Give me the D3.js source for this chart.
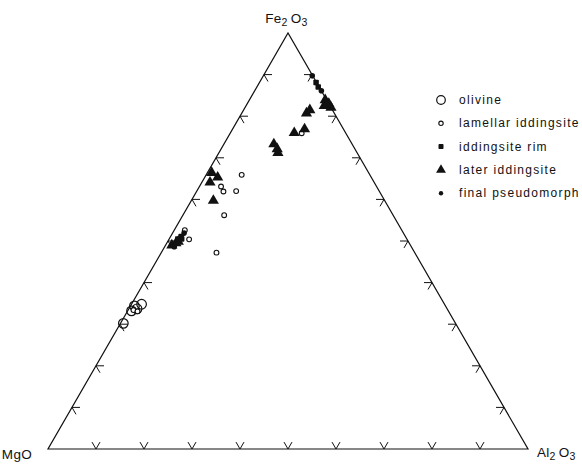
<!DOCTYPE html>
<html>
<head>
<meta charset="utf-8">
<script src="https://cdn.jsdelivr.net/npm/d3@7"></script>
<style>
  html, body { margin: 0; padding: 0; background: #fff; }
  svg { display: block; }
  text { font-family: "Liberation Sans", Arial, sans-serif; fill: #111; }
</style>
</head>
<body>
<svg id="chart" width="582" height="464"></svg>
<script>
// ---- Data: compositions in percent [MgO, Al2O3, Fe2O3] ----
const apexLabels = ["MgO", "Al2O3", "Fe2O3"];
const tickFractions = [0.1, 0.2, 0.3, 0.4, 0.5, 0.6, 0.7, 0.8, 0.9];

const olivine = [
  [63.1, 2.1, 34.8], [64.8, 0.8, 34.4], [66.0, 0.8, 33.2], [64.6, 1.7, 33.7], [69.2, 0.6, 30.2]
];
const lamellarIddingsite = [
  [26.7, 7.4, 65.9], [32.4, 4.5, 63.1], [32.5, 5.6, 61.9], [29.8, 8.2, 62.0], [35.2, 8.6, 56.2],
  [41.3, 11.5, 47.2], [45.4, 4.2, 50.4], [9.2, 14.9, 75.9], [45.2, 2.2, 52.6], [65.5, 1.1, 33.4],
  [64.8, 2.1, 33.1]
];
const iddingsiteRim = [
  [0.1, 11.8, 88.1], [0.2, 12.8, 87.0], [47.7, 1.8, 50.5], [46.7, 2.2, 51.1], [46.9, 2.6, 50.5]
];
const laterIddingsite = [
  [32.7, 0.9, 66.4], [32.0, 2.7, 65.3], [34.2, 1.7, 64.1], [35.7, 4.6, 59.7],
  [16.3, 10.4, 73.3], [16.2, 11.7, 72.1], [16.5, 12.3, 71.2], [10.7, 13.3, 76.0], [8.1, 15.0, 76.9],
  [5.8, 13.5, 80.7], [4.7, 13.8, 81.5], [0.3, 15.8, 83.9], [0.0, 17.0, 83.0], [0.0, 17.9, 82.1],
  [1.2, 16.3, 82.5], [0.4, 16.8, 82.8], [49.7, 1.3, 49.0], [48.6, 1.9, 49.5], [47.9, 2.2, 49.9]
];
const finalPseudomorph = [
  [0.1, 10.2, 89.7], [0.0, 13.9, 86.1], [45.7, 2.4, 51.9], [49.4, 2.0, 48.6]
];
const legendLabels = ["olivine", "lamellar iddingsite", "iddingsite rim", "later iddingsite", "final pseudomorph"];

// ---- Layout ----
const svg = d3.select("#chart");
const plotLeft = 48, plotRight = 528, plotBottom = 449, plotTop = 33;
const xScale = d3.scaleLinear().domain([0, 1]).range([plotLeft, plotRight]);   // along base
const yScale = d3.scaleLinear().domain([0, 1]).range([plotBottom, plotTop]);   // Fe2O3 fraction

function proj(d) {
  const s = d[0] + d[1] + d[2];
  const al = d[1] / s, fe = d[2] / s;
  return [xScale(al + fe / 2), yScale(fe)];
}

// Triangle outline
const corners = [[100, 0, 0], [0, 100, 0], [0, 0, 100]].map(proj);
svg.append("path")
  .attr("d", d3.line()(corners) + "Z")
  .attr("fill", "none").attr("stroke", "#111").attr("stroke-width", 1.2)
  .attr("stroke-linejoin", "miter");

// Ticks (two short strokes pointing inward along grid directions)
const tl = 8, c60 = Math.cos(Math.PI / 3), s60 = Math.sin(Math.PI / 3);
const tickG = svg.append("g").attr("stroke", "#111").attr("stroke-width", 1).attr("fill", "none");
tickFractions.forEach(f => {
  let p = proj([100 - f * 100, f * 100, 0]);
  tickG.append("path").attr("d", `M${p[0] - tl * c60},${p[1] - tl * s60}L${p[0]},${p[1]}L${p[0] + tl * c60},${p[1] - tl * s60}`);
  p = proj([100 - f * 100, 0, f * 100]);
  tickG.append("path").attr("d", `M${p[0] + tl},${p[1]}L${p[0]},${p[1]}L${p[0] + tl * c60},${p[1] + tl * s60}`);
  p = proj([0, 100 - f * 100, f * 100]);
  tickG.append("path").attr("d", `M${p[0] - tl},${p[1]}L${p[0]},${p[1]}L${p[0] - tl * c60},${p[1] + tl * s60}`);
});

// Marker drawing
const triPath = d3.symbol().type(d3.symbolTriangle).size(54);
const triLegend = d3.symbol().type(d3.symbolTriangle).size(42);
function drawSeries(data, kind) {
  const g = svg.append("g");
  data.forEach(d => {
    const [x, y] = proj(d);
    drawMarker(g, kind, x, y, false);
  });
}
function drawMarker(g, kind, x, y, legend) {
  if (kind === "olivine") {
    g.append("circle").attr("cx", x).attr("cy", y).attr("r", legend ? 4.3 : 4.8)
      .attr("fill", "none").attr("stroke", "#111").attr("stroke-width", 1.2);
  } else if (kind === "lamellar") {
    g.append("circle").attr("cx", x).attr("cy", y).attr("r", legend ? 2.2 : 2.4)
      .attr("fill", "#fff").attr("stroke", "#111").attr("stroke-width", 1.1);
  } else if (kind === "rim") {
    const s = legend ? 5 : 5.5;
    g.append("rect").attr("x", x - s / 2).attr("y", y - s / 2).attr("width", s).attr("height", s)
      .attr("rx", 0.8).attr("fill", "#111");
  } else if (kind === "later") {
    g.append("path").attr("d", legend ? triLegend() : triPath())
      .attr("transform", `translate(${x},${y})`).attr("fill", "#111");
  } else if (kind === "final") {
    g.append("circle").attr("cx", x).attr("cy", y).attr("r", legend ? 2.2 : 2.8).attr("fill", "#111");
  }
}

drawSeries(olivine, "olivine");
drawSeries(lamellarIddingsite, "lamellar");
drawSeries(laterIddingsite, "later");
drawSeries(iddingsiteRim, "rim");
drawSeries(finalPseudomorph, "final");

// Vertex labels with subscripts
function chemLabel(x, y, parts, anchor) {
  const t = svg.append("text").attr("x", x).attr("y", y).attr("text-anchor", anchor)
    .style("font-size", "13.5px").style("letter-spacing", "0.3px");
  parts.forEach(pt => {
    if (pt.sub) {
      t.append("tspan").attr("dy", 3).style("font-size", "10.5px").text(pt.t);
      t.append("tspan").attr("dy", -3).text("\u2009");
    } else {
      t.append("tspan").text(pt.t);
    }
  });
  return t;
}
const pTop = proj([0, 0, 100]), pL = proj([100, 0, 0]), pR = proj([0, 100, 0]);
chemLabel(pTop[0], pTop[1] - 10, [{t: "Fe"}, {t: "2", sub: true}, {t: "O"}, {t: "3", sub: true}], "middle");
chemLabel(pL[0] - 16, pL[1] + 10, [{t: "MgO"}], "end");
chemLabel(pR[0] + 9, pR[1] + 8, [{t: "Al"}, {t: "2", sub: true}, {t: "O"}, {t: "3", sub: true}], "start");

// Legend
const legendKinds = ["olivine", "lamellar", "rim", "later", "final"];
const legX = 441, legY0 = 100, legStep = 23.3;
const legG = svg.append("g");
legendKinds.forEach((k, i) => {
  const y = legY0 + i * legStep;
  drawMarker(legG, k, legX, y, true);
  legG.append("text").attr("x", legX + 18).attr("y", y + 4)
    .style("font-size", "12px").style("letter-spacing", "1.3px")
    .text(legendLabels[i]);
});
</script>
</body>
</html>
